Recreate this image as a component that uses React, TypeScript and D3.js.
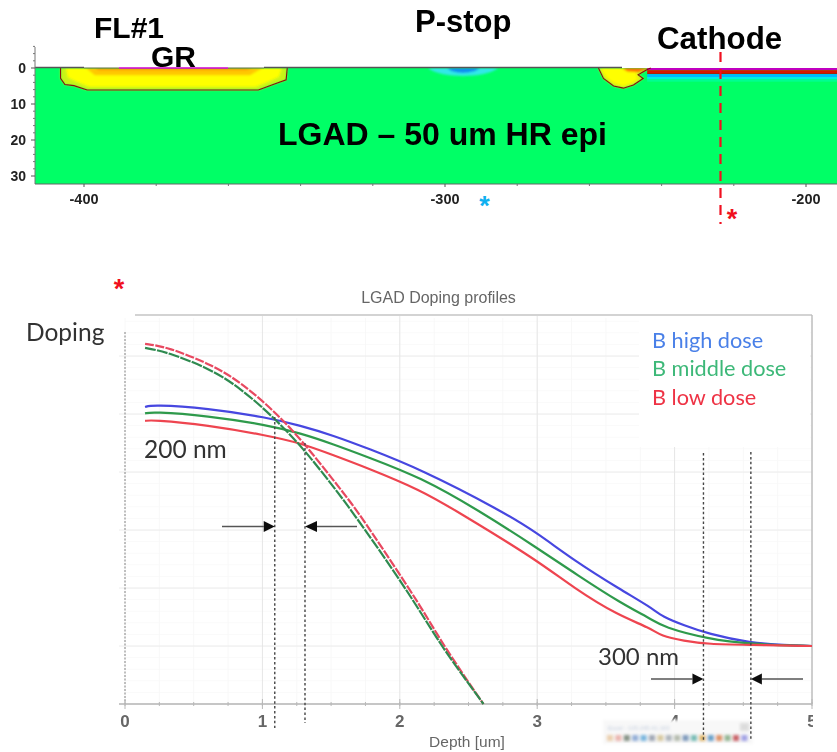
import React from 'react';
import * as d3 from 'd3';

// ---- top panel data: [position um, depth um]
const wellOutline = [[-406.5, 0], [-406.5, 2.9], [-405.3, 4.6], [-402.8, 4.9], [-399.1, 6.1], [-351.7, 6.1], [-347.6, 4.6], [-344, 3.3], [-343.7, 0]];
const wellLime = [[-406.5, 0], [-406.5, 2.9], [-405.3, 4.6], [-402.8, 4.9], [-399.1, 6.1], [-351.7, 6.1], [-347.6, 4.6], [-344, 3.3], [-343.7, 0]];
const wellYellow = [[-405, 0], [-404.5, 2.6], [-402, 3.8], [-398.5, 5.2], [-352.5, 5.2], [-349, 3.8], [-346, 2.4], [-345.2, 0]];
const wellGold = [[-399.5, 0], [-397, 2], [-354, 2], [-350.5, 0]];
const wellOrange = [[-397, 0], [-396, 0.6], [-355, 0.6], [-353, 0]];
const edgeOutline = [[-257.5, 0], [-256.1, 2.9], [-253.3, 5], [-250.6, 5.6], [-247.8, 4.7], [-245.1, 2.9], [-246.5, 1.9], [-244.1, 0.5], [-243, 0]];
const edgeYellow = [[-256.8, 0], [-255.4, 2.6], [-252.8, 4.4], [-250.6, 5], [-248.2, 4.2], [-246.2, 2.9], [-247.6, 1.6], [-246, 0]];
const edgeOrange = [[-251, 0], [-249.5, 1], [-246.5, 1.2], [-243, 0]];
const pstopCyan = [[-304.7, 0], [-303, 1.2], [-298, 2.3], [-292, 2.3], [-287, 1.2], [-285.3, 0]];
const pstopBlue = [[-299.4, 0], [-298, 1.1], [-295, 1.5], [-292, 1.1], [-290.3, 0]];
const cathodeBands = [
  { from: 0, to: 0.6, color: '#c000c0' },
  { from: 0.6, to: 1.4, color: '#d81800' },
  { from: 1.4, to: 1.7, color: '#b02000' },
  { from: 1.7, to: 2.5, color: '#00b8ff' },
  { from: 2.5, to: 3.2, color: '#00f0e0' },
  { from: 3.2, to: 3.8, color: '#00ff90' },
];
const topXTicks = [-400, -300, -200];
const topXMinor = [-380, -360, -340, -320, -280, -260, -240, -220];
const topYTicks = [0, 10, 20, 30];
const topYMinor = [-6, -4, -2, 2, 4, 6, 8, 12, 14, 16, 18, 22, 24, 26, 28];

// ---- bottom panel data: [depth um, decades above the axis]
const highDose = [[0.146, 5.12], [0.2, 5.16], [0.598, 5.1], [1.035, 4.94], [1.276, 4.8], [1.516, 4.63], [1.764, 4.41], [2.15, 4.05], [2.733, 3.34], [3.0, 2.95], [3.265, 2.48], [3.608, 1.97], [3.826, 1.67], [3.914, 1.5], [4.067, 1.36], [4.242, 1.21], [4.555, 1.05], [4.796, 1.02], [5, 1.0]];
const middleDose = [[0.146, 5.01], [0.2, 5.04], [0.598, 4.97], [1.035, 4.81], [1.276, 4.67], [1.516, 4.48], [1.764, 4.26], [2.15, 3.91], [2.573, 3.34], [3.0, 2.69], [3.294, 2.22], [3.608, 1.74], [3.841, 1.45], [3.914, 1.33], [4.242, 1.12], [4.555, 1.03], [5, 1.0]];
const lowDose = [[0.146, 4.88], [0.2, 4.9], [0.598, 4.81], [1.035, 4.63], [1.276, 4.5], [1.516, 4.29], [1.764, 4.07], [2.15, 3.69], [2.405, 3.34], [3.0, 2.48], [3.265, 2.0], [3.586, 1.53], [3.826, 1.31], [3.9, 1.17], [4.067, 1.09], [4.242, 1.03], [4.555, 1.02], [5, 1.0]];
const dashedRed = [[0.146, 6.21], [0.306, 6.16], [0.641, 5.84], [0.838, 5.55], [1.079, 5.07], [1.297, 4.52], [1.516, 3.86], [1.684, 3.36], [1.953, 2.4], [2.15, 1.69], [2.296, 1.1], [2.464, 0.5], [2.609, 0]];
const dashedGreen = [[0.146, 6.14], [0.306, 6.07], [0.62, 5.78], [0.838, 5.45], [1.079, 4.95], [1.297, 4.41], [1.516, 3.75], [1.647, 3.34], [1.953, 2.31], [2.15, 1.59], [2.296, 1.03], [2.464, 0.47], [2.609, 0]];
const depthTicks = [0, 1, 2, 3, 4, 5];
const depthMinor = d3.range(0, 5.01, 0.25);
const decadeTicks = [1, 2, 3, 4, 5, 6];
const decadeMinor = d3.range(0, 6.7, 0.2);
const markerDepths = [1.09, 1.31, 4.21, 4.555];
const legendLabels = ['B high dose', 'B middle dose', 'B low dose'];
const popupIcons = ['#e8c8a0', '#e8a8a0', '#708070', '#80a0d0', '#60a8d8', '#9098a8', '#d0c090', '#a0a8b0', '#a8b0a0', '#6888b0', '#60b0a8', '#d8a850', '#5090c0', '#d88050', '#80a880', '#c04850', '#9090e0'];

const x1 = d3.scaleLinear().domain([-400, -200]).range([84, 806]);
const y1 = d3.scaleLinear().domain([0, 30]).range([68, 176]);
const x2 = d3.scaleLinear().domain([0, 5]).range([125, 812]);
const y2 = d3.scaleLinear().domain([0, 6]).range([704, 356]);

const area = d3.line().x(d => x1(d[0])).y(d => y1(d[1]));
const smooth = d3.line().curve(d3.curveBasis).x(d => x1(d[0])).y(d => y1(d[1]));
const profile = d3.line().curve(d3.curveBasis).x(d => x2(d[0])).y(d => y2(d[1]));

const ARIAL = '"Liberation Sans", Arial, sans-serif';
const CALIBRI = 'Lato, "Open Sans", sans-serif';

function Arrow({ tip, from, y, head }) {
  const dir = from < tip ? 1 : -1;
  const base = tip - dir * head;
  return (
    <g>
      <line x1={from} x2={base} y1={y} y2={y} stroke="#555" strokeWidth={1.3} />
      <path d={`M${tip},${y}L${base},${y - 5.5}L${base},${y + 5.5}Z`} fill="#111" />
    </g>
  );
}

export default function App() {
  const cathodeX = x1(-244);
  return (
    <svg width={837} height={752} style={{ position: 'absolute', left: 0, top: 0, background: '#fff' }}>
      <defs>
        <filter id="soft" x="-5%" y="-5%" width="110%" height="110%"><feGaussianBlur stdDeviation="0.6" /></filter>
        <filter id="softer" x="-5%" y="-5%" width="110%" height="110%"><feGaussianBlur stdDeviation="0.8" /></filter>
        <filter id="field" x="-5%" y="-5%" width="110%" height="110%"><feGaussianBlur stdDeviation="1.3" /></filter>
        <filter id="pop" x="-5%" y="-10%" width="110%" height="120%"><feGaussianBlur stdDeviation="1.4" /></filter>
        <clipPath id="plotClip"><rect x={0} y={0} width={813} height={752} /></clipPath>
        <clipPath id="fieldClip"><rect x={35} y={68} width={802} height={116} /></clipPath>
      </defs>

      {/* TCAD cross section */}
      <rect x={35} y={68} width={802} height={116} fill="#00ff66" />
      <g clipPath="url(#fieldClip)">
        <g filter="url(#field)">
          <path d={area(wellLime)} fill="#c8f418" />
          <path d={area(wellYellow)} fill="#ffff00" />
          <path d={area(wellGold)} fill="#ffc800" />
          <path d={area(wellOrange)} fill="#ff9c00" />
          <path d={smooth(pstopCyan)} fill="#30e8e8" />
          <path d={smooth(pstopBlue)} fill="#1090f0" />
          <path d={area(edgeOutline)} fill="#e8f010" />
          <path d={smooth(edgeYellow)} fill="#ffff00" />
          <path d={area(edgeOrange)} fill="#ff7000" />
        </g>
      </g>
      <g filter="url(#soft)">
        {cathodeBands.map(b => (
          <rect key={b.from} x={cathodeX} y={y1(b.from)} width={837 - cathodeX} height={y1(b.to) - y1(b.from)} fill={b.color} />
        ))}
        <path d={area(wellOutline)} fill="none" stroke="#8a1010" strokeWidth={1.1} />
        <path d={area(edgeOutline)} fill="none" stroke="#8a1010" strokeWidth={1.1} />
        <line x1={35} x2={84} y1={67.5} y2={67.5} stroke="#555" strokeWidth={1.6} />
        <line x1={84} x2={119} y1={68} y2={68} stroke="#607040" strokeWidth={1} />
        <line x1={119} x2={228} y1={68} y2={68} stroke="#d000d0" strokeWidth={1.4} />
        <line x1={228} x2={264} y1={68} y2={68} stroke="#607040" strokeWidth={1} />
        <line x1={264} x2={622} y1={67.5} y2={67.5} stroke="#555" strokeWidth={1.6} />

        <line x1={35} x2={35} y1={47} y2={184} stroke="#777" strokeWidth={1} />
        <line x1={35} x2={837} y1={184} y2={184} stroke="#666" strokeWidth={1.2} />
        {topYMinor.map(t => <line key={t} x1={33} x2={35} y1={y1(t)} y2={y1(t)} stroke="#777" />)}
        {topYTicks.map(t => (
          <g key={t}>
            <line x1={31} x2={35} y1={y1(t)} y2={y1(t)} stroke="#555" />
            <text x={26} y={y1(t) + 5} textAnchor="end" fontFamily={ARIAL} fontWeight="bold" fontSize={14} fill="#222">{t}</text>
          </g>
        ))}
        {topXMinor.map(t => <line key={t} x1={x1(t)} x2={x1(t)} y1={184} y2={186} stroke="#777" />)}
        {topXTicks.map(t => (
          <g key={t}>
            <line x1={x1(t)} x2={x1(t)} y1={184} y2={187} stroke="#555" />
            <text x={x1(t)} y={204} textAnchor="middle" fontFamily={ARIAL} fontWeight="bold" fontSize={14.5} fill="#222">{t}</text>
          </g>
        ))}
      </g>

      <g fontFamily={ARIAL} fontWeight="bold" fill="#000" filter="url(#soft)">
        <text x={94} y={38} fontSize={30}>FL#1</text>
        <text x={151} y={67} fontSize={30}>GR</text>
        <text x={415} y={32} fontSize={31}>P-stop</text>
        <text x={657} y={49} fontSize={31.3}>Cathode</text>
        <text x={278} y={145} fontSize={32}>LGAD – 50 um HR epi</text>
      </g>
      <line x1={720.5} x2={720.5} y1={52} y2={224} stroke="#f01020" strokeWidth={2.2} strokeDasharray="10 7" />
      <g fontFamily={ARIAL} fontWeight="bold" fontSize={27} textAnchor="middle">
        <text x={484.5} y={215} fill="#10b0f0">*</text>
        <text x={732} y={228} fill="#f01020">*</text>
        <text x={119} y={298} fill="#f01020">*</text>
      </g>

      {/* doping profiles */}
      <g clipPath="url(#plotClip)">
        <g filter="url(#soft)">
          {decadeMinor.map(v => <line key={v} x1={125} x2={812} y1={y2(v)} y2={y2(v)} stroke="#fafafa" />)}
          {depthMinor.map(v => <line key={v} x1={x2(v)} x2={x2(v)} y1={318} y2={704} stroke="#f8f8f8" />)}
          {decadeTicks.map(v => <line key={v} x1={119} x2={812} y1={y2(v)} y2={y2(v)} stroke="#ececec" />)}
          {depthTicks.slice(1, 5).map(v => <line key={v} x1={x2(v)} x2={x2(v)} y1={316} y2={704} stroke="#e6e6e6" />)}
          <rect x={639} y={316} width={171} height={131} fill="#fff" />
          <line x1={135} x2={812} y1={315} y2={315} stroke="#c4c4c4" strokeWidth={1.4} />
          <line x1={812} x2={812} y1={315} y2={704} stroke="#bbb" strokeWidth={1.4} />
          <line x1={119} x2={812} y1={704} y2={704} stroke="#b4b4b4" strokeWidth={1.4} />
          <line x1={125} x2={125} y1={332} y2={704} stroke="#aaa" strokeWidth={1.5} strokeDasharray="2 1.5" />
          {depthMinor.map(v => <line key={v} x1={x2(v)} x2={x2(v)} y1={702} y2={706} stroke="#b8b8b8" />)}
          {depthTicks.map(v => (
            <g key={v}>
              <line x1={x2(v)} x2={x2(v)} y1={699} y2={709} stroke="#b8b8b8" />
              <text x={x2(v)} y={727} textAnchor="middle" fontFamily={ARIAL} fontWeight="bold" fontSize={17} fill="#666">{v}</text>
            </g>
          ))}
          <text x={467} y={747} textAnchor="middle" fontFamily={ARIAL} fontSize={15.5} fill="#666">Depth [um]</text>
          <text x={438.5} y={303} textAnchor="middle" fontFamily={ARIAL} fontSize={16} fill="#666">LGAD Doping profiles</text>
        </g>

        <g fill="none" filter="url(#soft)" strokeWidth={2.2} strokeLinejoin="round">
          <path d={profile(highDose)} stroke="#4646e0" />
          <path d={profile(middleDose)} stroke="#2f9a4c" />
          <path d={profile(lowDose)} stroke="#ee4450" />
          <path d={profile(dashedRed)} stroke="#e84860" strokeDasharray="9 1.5" />
          <path d={profile(dashedGreen)} stroke="#2f8a50" strokeDasharray="11 1.2" />
        </g>

        {/* popup toolbar of the screen grab */}
        <rect x={603} y={720} width={150} height={24} fill="#f8f8f8" filter="url(#pop)" />
        <g filter="url(#pop)" opacity={0.85}>
          <rect x={740} y={723} width={9} height={8} fill="#d8d8d8" />
          <text x={608} y={730} fontFamily={ARIAL} fontSize={6} fill="#b8c4d8">Excel - 135.245.41.163</text>
          {popupIcons.map((c, i) => (
            <rect key={i} x={607 + i * 8.4} y={735} width={6} height={6} fill={c} />
          ))}
        </g>

        <g stroke="#444" strokeWidth={1.4} strokeDasharray="2.5 2.4" filter="url(#soft)">
          <line x1={x2(markerDepths[0])} x2={x2(markerDepths[0])} y1={417} y2={728} />
          <line x1={x2(markerDepths[1])} x2={x2(markerDepths[1])} y1={443} y2={723} />
          <line x1={x2(markerDepths[2])} x2={x2(markerDepths[2])} y1={453} y2={741} />
          <line x1={x2(markerDepths[3])} x2={x2(markerDepths[3])} y1={452} y2={741} />
        </g>
      </g>

      <g filter="url(#soft)">
        <Arrow from={222} tip={x2(markerDepths[0])} y={526.5} head={11} />
        <Arrow from={357} tip={x2(markerDepths[1])} y={526.5} head={12} />
        <Arrow from={651} tip={x2(markerDepths[2])} y={679} head={11} />
        <Arrow from={803} tip={x2(markerDepths[3])} y={679} head={11} />
        <g fontFamily={CALIBRI} fill="#333">
          <text x={26} y={341} fontSize={24.5}>Doping</text>
          <text x={144} y={458} fontSize={24.5}>200 nm</text>
          <text x={598} y={665} fontSize={24}>300 nm</text>
        </g>
        <g fontFamily={CALIBRI} fontSize={21.7}>
          <text x={652} y={348} fill="#4a80e8">{legendLabels[0]}</text>
          <text x={652} y={376} fill="#3cb878">{legendLabels[1]}</text>
          <text x={652} y={405} fill="#ee3344">{legendLabels[2]}</text>
        </g>
      </g>
    </svg>
  );
}
